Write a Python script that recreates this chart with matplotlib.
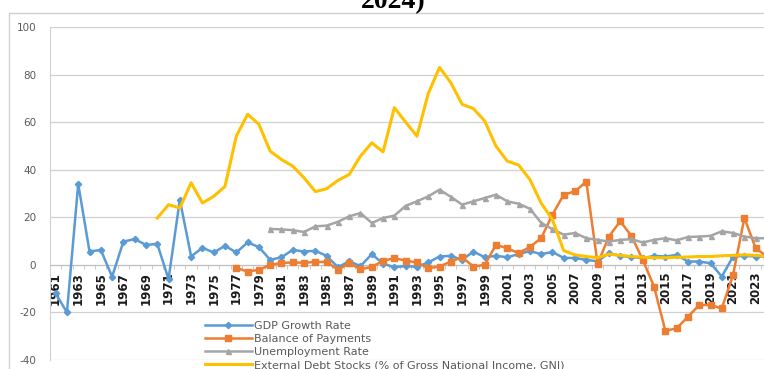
import numpy as np
import matplotlib
matplotlib.use("Agg")
import matplotlib.pyplot as plt
from matplotlib.patches import Rectangle

plt.rcParams["axes.unicode_minus"] = False

nan = np.nan

years = list(range(1961, 2025))

gdp_growth = [
    -12, -20, 34, 5.6, 6.3, -5, 9.8, 10.8, 8.4, 8.8,             # 1961-1970
    -6, 27.4, 3.5, 7.2, 5.2, 8.0, 5.2, 9.4, 7.5, 2.1,            # 1971-1980
    3.2, 6.3, 5.6, 5.9, 3.8, -1.0, 1.5, -0.5, 4.5, 0.5,          # 1981-1990
    -1.0, -0.5, -0.8, 1.0, 3.5, 3.8, 2.1, 5.6, 3.2, 3.8,         # 1991-2000
    3.2, 4.5, 5.8, 4.5, 5.4, 2.9, 2.9, 2.1, 1.5, 4.9,            # 2001-2010
    3.8, 3.3, 2.8, 3.8, 3.5, 4.2, 1.4, 1.4, 0.7, -4.9,           # 2011-2020
    3.5, 3.8, 3.5, 3.5,                                          # 2021-2024
]

balance_of_payments = [
    nan, nan, nan, nan, nan, nan, nan, nan, nan, nan,            # 1961-1970
    nan, nan, nan, nan, nan, nan, -1.3, -2.8, -2.1, 0.0,         # 1971-1980
    0.8, 1.0, 0.9, 1.2, 1.3, -2.1, 0.7, -1.8, -0.9, 1.7,         # 1981-1990
    2.8, 1.8, 1.0, -1.4, -0.7, 1.4, 3.2, -0.7, 0.0, 8.4,         # 1991-2000
    7.0, 4.9, 7.5, 11.2, 21.1, 29.5, 30.9, 35.0, 0.4, 11.9,      # 2001-2010
    18.3, 12.2, 2.1, -9.1, -27.7, -26.7, -21.8, -16.9, -16.9, -18.3,  # 2011-2020
    -4.2, 19.7, 7.0, 3.5,                                        # 2021-2024
]

unemployment = [
    nan, nan, nan, nan, nan, nan, nan, nan, nan, nan,            # 1961-1970
    nan, nan, nan, nan, nan, nan, nan, nan, nan, 15.1,           # 1971-1980
    14.9, 14.6, 13.8, 16.2, 16.5, 18.1, 20.4, 21.8, 17.6, 19.7,  # 1981-1990
    20.7, 24.8, 26.7, 28.8, 31.6, 28.6, 25.3, 26.7, 28.1, 29.5,  # 1991-2000
    26.7, 25.7, 23.6, 17.7, 15.0, 12.7, 13.4, 11.2, 10.5, 9.8,   # 2001-2010
    10.5, 10.8, 9.4, 10.5, 11.2, 10.3, 11.7, 11.9, 12.2, 14.1,   # 2011-2020
    13.4, 11.9, 11.2, 11.2,                                      # 2021-2024
]

external_debt = [
    nan, nan, nan, nan, nan, nan, nan, nan, nan, 19.7,           # 1961-1970
    25.3, 23.9, 34.5, 26.0, 28.8, 33.0, 54.1, 63.3, 59.1, 47.8,  # 1971-1980
    44.3, 41.5, 36.6, 30.8, 32.0, 35.5, 38.0, 45.7, 51.3, 47.5,  # 1981-1990
    66.1, 60.0, 54.1, 72.0, 83.0, 76.6, 67.5, 65.7, 60.5, 49.9,  # 1991-2000
    43.6, 42.0, 35.9, 26.0, 19.0, 6.0, 4.2, 3.5, 3.0, 4.5,       # 2001-2010
    4.0, 3.5, 3.2, 3.0, 3.0, 3.2, 3.3, 3.5, 3.5, 3.8,            # 2011-2020
    4.0, 4.2, 4.0, 3.5,                                          # 2021-2024
]

series_names = [
    "GDP Growth Rate",
    "Balance of Payments",
    "Unemployment Rate",
    "External Debt Stocks (% of Gross National Income, GNI)",
]

W, H = 764, 369
fig = plt.figure(figsize=(W / 100, H / 100), dpi=100)
fig.patch.set_facecolor("white")

# chart area border (cut off on the right and bottom, like the screenshot)
fig.patches.append(Rectangle((9 / W, -0.1), 1.2, 1.1 - 13 / H,
                             transform=fig.transFigure, fill=False,
                             edgecolor="#d0d0d0", linewidth=1.0))

# end of the caption above the chart, only its lower part is on screen
fig.text(393 / W, 1 - 8 / H, "2024)", ha="center", va="baseline",
         fontsize=20, fontweight="bold", family="Liberation Serif",
         color="black")

ax = fig.add_axes([50 / W, 9 / H, 722.6 / W, 333 / H])
x = np.arange(len(years))

ax.plot(x, gdp_growth, color="#5B9BD5", lw=1.8, marker="D", ms=3.2,
        label=series_names[0], zorder=3)
ax.plot(x, balance_of_payments, color="#ED7D31", lw=1.8, marker="s", ms=3.8,
        label=series_names[1], zorder=4)
ax.plot(x, unemployment, color="#A5A5A5", lw=1.8, marker="^", ms=3.6,
        label=series_names[2], zorder=5)
ax.plot(x, external_debt, color="#FFC000", lw=2.2,
        label=series_names[3], zorder=6)

ax.set_xlim(-0.5, len(years) - 0.5)
ax.set_ylim(-40, 100)
ax.set_yticks(range(-40, 101, 20))
ax.grid(axis="y", color="#d0d0d0", lw=0.9, zorder=0)
ax.set_axisbelow(True)

for s in ("top", "right"):
    ax.spines[s].set_visible(False)
ax.spines["left"].set_color("#d0d0d0")
ax.spines["bottom"].set_position(("data", 0))
ax.spines["bottom"].set_color("#bfbfbf")

ax.tick_params(axis="y", length=0, pad=10, labelsize=7.5, labelcolor="#595959")

ax.set_xticks(x[::2])
ax.set_xticklabels([str(y) for y in years[::2]], rotation=90,
                   fontweight="bold")
ax.set_xticks(np.arange(-0.5, len(years), 1), minor=True)
ax.tick_params(axis="x", which="major", length=0, pad=5, labelsize=8.5,
               labelcolor="#1a1a1a")
ax.tick_params(axis="x", which="minor", length=3, color="#bfbfbf")

leg = ax.legend(loc="upper left", bbox_to_anchor=(205 / W, 1 - 321 / H),
                bbox_transform=fig.transFigure, frameon=False, fontsize=8,
                borderpad=0, borderaxespad=0, labelspacing=0.28,
                handlelength=4.2, handletextpad=0.2)
for t in leg.get_texts():
    t.set_color("#595959")

fig.savefig("out.png", dpi=100)
